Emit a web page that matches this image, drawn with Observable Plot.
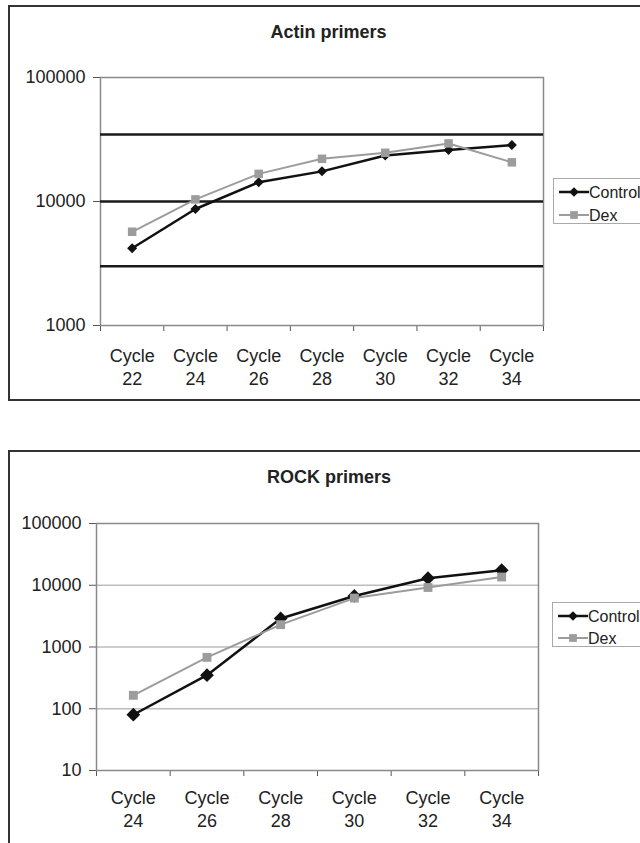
<!DOCTYPE html>
<html>
<head>
<meta charset="utf-8">
<script src="https://cdn.jsdelivr.net/npm/d3@7"></script>
<script src="https://cdn.jsdelivr.net/npm/@observablehq/plot@0.6"></script>
<style>
  html, body { margin: 0; padding: 0; background: #fff; }
  body { width: 640px; height: 843px; overflow: hidden; position: relative; font-family: "Liberation Sans", Arial, sans-serif; color: #222; }
  .panel { position: absolute; box-sizing: border-box; border: 2px solid #333; background: #fff; }
  .plot { position: absolute; left: 0; }
  .legend { position: absolute; box-sizing: border-box; border: 1px solid #aaa; background: #fff; width: 130px; }
  .legend svg { display: block; }
</style>
</head>
<body>
<div class="panel" style="left:8px;top:5px;width:700px;height:396px"></div>
<div class="panel" style="left:8px;top:450px;width:700px;height:420px"></div>
<div id="p1" class="plot" style="top:0px"></div>
<div id="p2" class="plot" style="top:430px"></div>
<div id="l1" class="legend" style="left:553px;top:178px;height:46px"></div>
<div id="l2" class="legend" style="left:552px;top:602px;height:45px"></div>
<script>
// ---- data ----
const actinTitle = "Actin primers";
const actinCycles = ["22", "24", "26", "28", "30", "32", "34"];
const actinControl = [4200, 8700, 14300, 17500, 23500, 26000, 28500];
const actinDex = [5700, 10400, 16700, 22100, 24700, 29400, 20700];
const actinRefLines = [3000, 10000, 34700];
const actinTicks = [1000, 10000, 100000];

const rockTitle = "ROCK primers";
const rockCycles = ["24", "26", "28", "30", "32", "34"];
const rockControl = [80, 350, 2900, 6700, 13000, 17500];
const rockDex = [165, 680, 2300, 6200, 9200, 13600];
const rockTicks = [10, 100, 1000, 10000, 100000];

const seriesNames = ["Control", "Dex"];

// ---- styles ----
const FONT = "Liberation Sans, Arial, sans-serif";
const CTRL = "#111";
const DEX = "#9c9c9c";

function table(cycles, values) {
  return cycles.map((c, i) => ({i, cycle: c, v: values[i]}));
}

function chart({title, cycles, control, dex, ticks, refLines, gridLines, m, height, titleDx, titleDy, labelDy, ctrlR, dexR}) {
  const n = cycles.length;
  const ctrlData = table(cycles, control);
  const dexData = table(cycles, dex);
  const bounds = d3.range(n + 1).map(k => k - 0.5);
  const marks = [];
  if (gridLines) marks.push(Plot.ruleY(gridLines, {stroke: "#bdbdbd", strokeWidth: 1.5}));
  marks.push(Plot.frame({stroke: "#8a8a8a", strokeWidth: 1.5}));
  if (refLines) marks.push(Plot.ruleY(refLines, {stroke: "#1a1a1a", strokeWidth: 2.5}));
  marks.push(
    Plot.line(ctrlData, {x: "i", y: "v", stroke: CTRL, strokeWidth: 2.5}),
    Plot.dot(ctrlData, {x: "i", y: "v", symbol: "diamond2", r: ctrlR, fill: CTRL, stroke: "none"}),
    Plot.line(dexData, {x: "i", y: "v", stroke: DEX, strokeWidth: 2}),
    Plot.dot(dexData, {x: "i", y: "v", symbol: "square", r: dexR, fill: DEX, stroke: "none"}),
    Plot.text(ticks, {y: d => d, text: d => d3.format("d")(d), frameAnchor: "left", textAnchor: "end", dx: -15, fontSize: 18, fill: "#222"}),
    Plot.text(ctrlData, {x: "i", text: d => "Cycle\n" + d.cycle, frameAnchor: "bottom", lineAnchor: "top", dy: labelDy, lineHeight: 1.27, fontSize: 18, fill: "#222"}),
    Plot.text([title], {frameAnchor: "top", dx: titleDx, dy: titleDy, fontSize: 18, fontWeight: "bold", fill: "#222"})
  );
  return Plot.plot({
    width: 640,
    height,
    marginLeft: m[0], marginRight: m[1], marginTop: m[2], marginBottom: m[3],
    style: {fontFamily: FONT, fontSize: "18px", color: "#555", background: "transparent", overflow: "visible"},
    x: {type: "linear", domain: [-0.5, n - 0.5], ticks: bounds, tickFormat: () => "", tickSize: 6, label: null},
    y: {type: "log", domain: [ticks[0], ticks[ticks.length - 1]], ticks: ticks, tickFormat: () => "", tickSize: 7, label: null},
    marks
  });
}

document.getElementById("p1").appendChild(chart({
  title: actinTitle, cycles: actinCycles, control: actinControl, dex: actinDex,
  ticks: actinTicks, refLines: actinRefLines, gridLines: null,
  m: [100, 97, 77, 75], height: 400, titleDx: 6.5, titleDy: -52, labelDy: 20, ctrlR: 4.5, dexR: 4.8
}));
document.getElementById("p2").appendChild(chart({
  title: rockTitle, cycles: rockCycles, control: rockControl, dex: rockDex,
  ticks: rockTicks, refLines: null, gridLines: rockTicks.slice(1, -1),
  m: [96, 102, 93, 73], height: 413, titleDx: 11.5, titleDy: -53, labelDy: 17, ctrlR: 6.2, dexR: 5
}));

// ---- legends ----
function legend(id, rowYs) {
  const svg = d3.select("#" + id).append("svg").attr("width", 130).attr("height", 46)
    .style("font-family", FONT).style("font-size", "16px");
  const specs = [
    {name: seriesNames[0], color: CTRL, sw: 2.5, sym: d3.symbolDiamond2 || d3.symbolDiamond, size: 60},
    {name: seriesNames[1], color: DEX, sw: 2, sym: d3.symbolSquare, size: 60}
  ];
  specs.forEach((s, k) => {
    const y = rowYs[k];
    svg.append("line").attr("x1", 5).attr("x2", 35).attr("y1", y).attr("y2", y)
      .attr("stroke", s.color).attr("stroke-width", s.sw);
    svg.append("path").attr("d", d3.symbol(s.sym, s.size)()).attr("transform", `translate(20,${y})`).attr("fill", s.color);
    svg.append("text").attr("x", 35).attr("y", y).attr("dy", "0.35em").attr("fill", "#222").text(s.name);
  });
}
legend("l1", [13, 36]);
legend("l2", [13, 35]);
</script>
</body>
</html>
